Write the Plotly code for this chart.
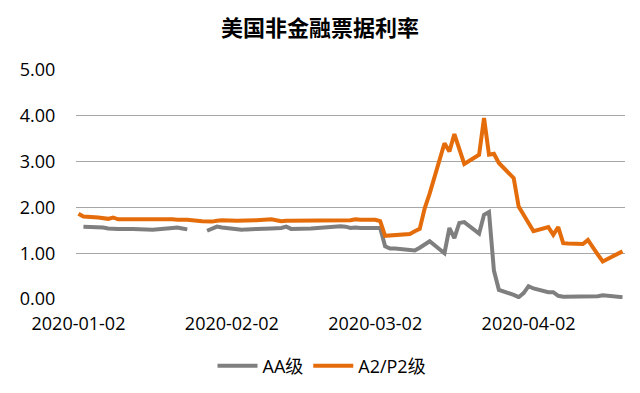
import plotly.graph_objects as go

dates = [
    "2020-01-02", "2020-01-03", "2020-01-06", "2020-01-07", "2020-01-08", "2020-01-09", "2020-01-10",
    "2020-01-13", "2020-01-14", "2020-01-15", "2020-01-16", "2020-01-17", "2020-01-21", "2020-01-22",
    "2020-01-23", "2020-01-24", "2020-01-27", "2020-01-28", "2020-01-29", "2020-01-30", "2020-01-31",
    "2020-02-03", "2020-02-04", "2020-02-05", "2020-02-06", "2020-02-07", "2020-02-10", "2020-02-11",
    "2020-02-12", "2020-02-13", "2020-02-14", "2020-02-18", "2020-02-19", "2020-02-20", "2020-02-21",
    "2020-02-24", "2020-02-25", "2020-02-26", "2020-02-27", "2020-02-28",
    "2020-03-02", "2020-03-03", "2020-03-04", "2020-03-05", "2020-03-06", "2020-03-09", "2020-03-10",
    "2020-03-11", "2020-03-12", "2020-03-13", "2020-03-16", "2020-03-17", "2020-03-18", "2020-03-19",
    "2020-03-20", "2020-03-23", "2020-03-24", "2020-03-25", "2020-03-26", "2020-03-27", "2020-03-30",
    "2020-03-31",
    "2020-04-01", "2020-04-02", "2020-04-03", "2020-04-06", "2020-04-07", "2020-04-08", "2020-04-09",
    "2020-04-10", "2020-04-13", "2020-04-14", "2020-04-15", "2020-04-16", "2020-04-17", "2020-04-20",
    "2020-04-21",
]

aa_rate = [
    None, 1.58, 1.57, 1.56, 1.54, 1.53, 1.53,
    1.53, 1.53, 1.53, 1.52, 1.51, 1.55, 1.56,
    1.54, 1.52, None, 1.49, 1.54, 1.58, 1.56,
    1.52, 1.51, 1.52, 1.53, 1.53, 1.54, 1.54,
    1.55, 1.58, 1.53, 1.54, 1.55, 1.56, 1.57,
    1.59, 1.58, 1.55, 1.56, 1.55,
    1.55, 1.55, 1.15, 1.10, 1.10, 1.08, 1.06,
    1.12, 1.19, 1.26, 1.00, 1.55, 1.33, 1.66,
    1.68, 1.43, 1.84, 1.90, 0.62, 0.20, 0.09,
    0.04,
    0.13, 0.28, 0.23, 0.15, 0.15, 0.07, 0.05,
    0.05, 0.05, 0.05, 0.05, 0.06, 0.08, 0.06,
    0.04,
]

a2p2_rate = [
    1.86, 1.80, 1.78, 1.76, 1.75, 1.78, 1.74,
    1.74, 1.74, 1.74, 1.74, 1.76, 1.74, 1.73,
    1.74, 1.73, 1.70, 1.69, 1.69, 1.71, 1.72,
    1.71, 1.71, 1.72, 1.72, 1.72, 1.74, 1.72,
    1.70, 1.71, 1.71, 1.71, 1.72, 1.72, 1.72,
    1.72, 1.72, 1.72, 1.74, 1.73,
    1.73, 1.70, 1.38, 1.39, 1.40, 1.42, 1.48,
    1.53, 1.98, 2.30, 3.40, 3.22, 3.60, 3.27,
    2.95, 3.15, 3.95, 3.15, 3.17, 2.97, 2.64,
    2.02,
    1.84, 1.66, 1.48, 1.57, 1.40, 1.57, 1.22,
    1.21, 1.20, 1.29, 1.11, 0.97, 0.82, 0.97,
    1.04,
]

x_ticks = ["2020-01-02", "2020-02-02", "2020-03-02", "2020-04-02"]
y_ticks = [0, 1, 2, 3, 4, 5]

font_family = "Open Sans, Noto Sans CJK SC, sans-serif"

# the page body adds an 8px offset; layout numbers below compensate for it
W, H = 640, 393

fig = go.Figure()
fig.add_trace(go.Scatter(
    x=dates, y=aa_rate, mode="lines", name="AA级",
    line=dict(color="#7f7f7f", width=4), connectgaps=False,
))
fig.add_trace(go.Scatter(
    x=dates, y=a2p2_rate, mode="lines", name="A2/P2级",
    line=dict(color="#e46c0a", width=4),
))

fig.update_layout(
    width=W, height=H,
    paper_bgcolor="white", plot_bgcolor="white",
    margin=dict(l=60, r=23, t=62, b=102),
    font=dict(family=font_family, size=18, color="#000000"),
    title=dict(
        text="<b>美国非金融票据利率</b>",
        font=dict(family="Noto Sans CJK SC, sans-serif", size=22, color="#000000"),
        x=312 / W, xref="container", xanchor="center",
        y=1 - 20 / H, yref="container", yanchor="middle",
    ),
    showlegend=True,
    legend=dict(
        orientation="h", x=314 / W, xref="container", xanchor="center",
        y=1 - 358 / H, yref="container", yanchor="middle",
        font=dict(family=font_family, size=18),
        itemwidth=40,
    ),
    xaxis=dict(
        type="date",
        range=["2020-01-01 12:00", "2020-04-21 12:00"],
        tickmode="array", tickvals=x_ticks, ticktext=x_ticks,
        showgrid=False, zeroline=False, showline=False,
        ticks="outside", ticklen=8, tickcolor="rgba(0,0,0,0)",
    ),
    yaxis=dict(
        range=[0, 5],
        tickmode="array", tickvals=y_ticks, tickformat=".2f",
        showgrid=True, gridcolor="#a6a6a6", gridwidth=1.2,
        zeroline=False, showline=False,
        ticks="outside", ticklen=16, tickcolor="rgba(0,0,0,0)",
    ),
)

fig.write_html("out.html")
